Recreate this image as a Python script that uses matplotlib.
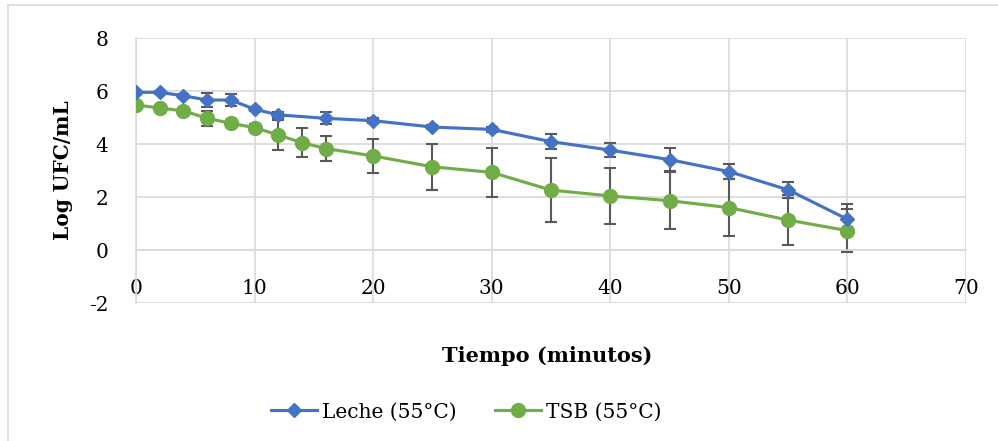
import matplotlib.pyplot as plt

# Leche (55°C)
leche_t = [0, 2, 4, 6, 8, 10, 12, 16, 20, 25, 30, 35, 40, 45, 50, 55, 60]
leche_log = [5.95, 5.95, 5.82, 5.66, 5.66, 5.31, 5.10, 4.97, 4.88, 4.64, 4.55, 4.09, 3.77, 3.41, 2.96, 2.27, 1.16]
leche_err = [0.05, 0.05, 0.08, 0.25, 0.22, 0.08, 0.10, 0.22, 0.10, 0.08, 0.08, 0.29, 0.26, 0.43, 0.29, 0.31, 0.56]

# TSB (55°C)
tsb_t = [0, 2, 4, 6, 8, 10, 12, 14, 16, 20, 25, 30, 35, 40, 45, 50, 55, 60]
tsb_log = [5.47, 5.36, 5.25, 4.97, 4.78, 4.62, 4.34, 4.05, 3.83, 3.55, 3.14, 2.93, 2.26, 2.04, 1.86, 1.60, 1.13, 0.73]
tsb_err = [0.05, 0.05, 0.08, 0.28, 0.12, 0.13, 0.55, 0.54, 0.48, 0.64, 0.87, 0.93, 1.20, 1.07, 1.08, 1.09, 0.93, 0.80]

x_ticks = [0, 10, 20, 30, 40, 50, 60, 70]
y_ticks = [-2, 0, 2, 4, 6, 8]

blue = '#4472C4'
green = '#70AD47'
grid = '#D9D9D9'
fs = 14.5

plt.rcParams['font.family'] = ['DejaVu Serif']
plt.rcParams['axes.unicode_minus'] = False

fig = plt.figure(figsize=(9.98, 4.41), dpi=100)
ax = fig.add_axes([0.1363, 0.3129, 0.968 - 0.1363, 0.9138 - 0.3129])

ax.errorbar(leche_t, leche_log, yerr=leche_err, fmt='none', ecolor='#595959',
            elinewidth=1.5, capsize=4, capthick=1.5, zorder=2)
ax.errorbar(tsb_t, tsb_log, yerr=tsb_err, fmt='none', ecolor='#595959',
            elinewidth=1.5, capsize=4, capthick=1.5, zorder=2)
ax.plot(leche_t, leche_log, color=blue, lw=2.25, marker='D', ms=7.5,
        label='Leche (55°C)', zorder=4)
ax.plot(tsb_t, tsb_log, color=green, lw=2.25, marker='o', ms=10,
        label='TSB (55°C)', zorder=3)

ax.set_xlim(0, 70)
ax.set_ylim(-2, 8)
ax.set_xticks(x_ticks)
ax.set_yticks(y_ticks)
ax.grid(True, color=grid, lw=1.2)
ax.set_axisbelow(True)
for s in ['top', 'right']:
    ax.spines[s].set_visible(False)
ax.spines['bottom'].set_position(('data', 0))
ax.spines['bottom'].set_color(grid)
ax.spines['bottom'].set_linewidth(1.2)
ax.spines['left'].set_color(grid)
ax.spines['left'].set_linewidth(1.2)
ax.tick_params(axis='x', length=0, pad=21, labelsize=fs)
ax.tick_params(axis='y', length=0, pad=20, labelsize=fs)

ax.set_ylabel('Log UFC/mL', fontsize=fs, fontweight='bold', labelpad=11)
fig.text(0.548, 0.193, 'Tiempo (minutos)', fontsize=15, fontweight='bold',
         ha='center', va='center')

fig.legend(loc='center', bbox_to_anchor=(0.467, 0.066), ncol=2, frameon=False,
           fontsize=fs, handlelength=2.3, columnspacing=1.9, handletextpad=0.25)

# outer chart border (only left and top edges fall inside the picture)
fig.add_artist(plt.Line2D([8 / 998, 8 / 998], [0, 1 - 5 / 441],
                          transform=fig.transFigure, color=grid, lw=1.2))
fig.add_artist(plt.Line2D([8 / 998, 1], [1 - 5 / 441, 1 - 5 / 441],
                          transform=fig.transFigure, color=grid, lw=1.2))

fig.savefig('out.png', dpi=100)
